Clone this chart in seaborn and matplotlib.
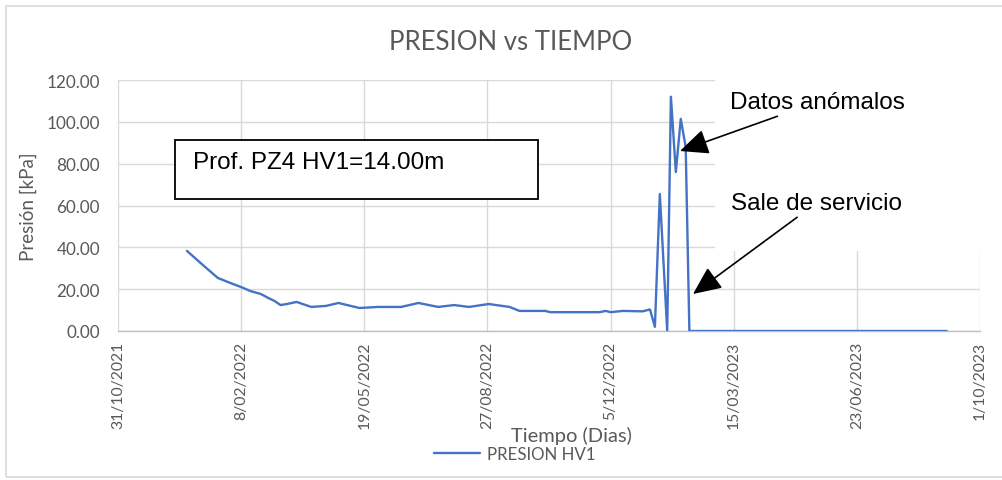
import matplotlib
matplotlib.use("Agg")
import matplotlib.pyplot as plt
import matplotlib.dates as mdates
from matplotlib.patches import Rectangle
import pandas as pd
import seaborn as sns

# Pressure readings of piezometer PZ4 HV1
fechas = [
    "2021-12-26", "2022-01-08", "2022-01-20", "2022-01-30", "2022-02-08",
    "2022-02-16", "2022-02-24", "2022-03-02", "2022-03-07", "2022-03-12",
    "2022-03-18", "2022-03-25", "2022-04-06", "2022-04-18", "2022-04-28",
    "2022-05-15", "2022-05-30", "2022-06-18", "2022-07-02", "2022-07-18",
    "2022-07-31", "2022-08-12", "2022-08-28", "2022-09-14", "2022-09-22",
    "2022-10-13", "2022-10-17", "2022-11-26", "2022-12-01", "2022-12-05",
    "2022-12-15", "2022-12-31", "2023-01-06", "2023-01-10", "2023-01-14",
    "2023-01-20", "2023-01-23", "2023-01-27", "2023-01-31", "2023-02-04",
    "2023-02-07", "2023-09-04",
]
presion = [
    38.3, 31.5, 25.4, 23.0, 21.0,
    19.0, 17.7, 15.8, 14.4, 12.4,
    13.0, 13.9, 11.5, 12.0, 13.4,
    11.0, 11.5, 11.5, 13.4, 11.5,
    12.4, 11.5, 12.9, 11.5, 9.6,
    9.6, 9.0, 9.0, 9.6, 9.0,
    9.6, 9.4, 10.3, 2.0, 65.5,
    0.0, 112.0, 76.0, 101.4, 88.0,
    0.0, 0.0,
]
serie = "PRESION HV1"
titulo = "PRESION vs TIEMPO"
nota_prof = "Prof. PZ4 HV1=14.00m"
nota_anom = "Datos anómalos"
nota_baja = "Sale de servicio"

df = pd.DataFrame({"Fecha": pd.to_datetime(fechas), "Presion": presion})

sns.set_theme(style="whitegrid")
plt.rcParams["font.family"] = ["Lato", "DejaVu Sans"]

gris_txt = "#595959"
gris_grid = "#d9d9d9"

fig = plt.figure(figsize=(10.02, 4.81), dpi=100)
ax = fig.add_axes([118 / 1002, 1 - 332 / 481, (980 - 118) / 1002, (332 - 81) / 481])

sns.lineplot(data=df, x="Fecha", y="Presion", ax=ax, color="#4472C4",
             linewidth=1.7, label=serie, zorder=4)

inicio = pd.Timestamp("2021-10-31")
fin = pd.Timestamp("2023-10-01")
ax.set_xlim(inicio, fin)
ax.set_ylim(0, 120)
ax.set_yticks(range(0, 121, 20))
ax.yaxis.set_major_formatter(plt.FuncFormatter(lambda v, p: f"{v:.2f}"))
ax.set_xticks(pd.date_range(inicio, periods=8, freq="100D"))
ax.xaxis.set_major_formatter(plt.FuncFormatter(
    lambda v, p: (lambda d: f"{d.day}/{d.month:02d}/{d.year}")(mdates.num2date(v))))
ax.tick_params(axis="x", rotation=90, labelsize=11.3, labelcolor=gris_txt, pad=7, length=0)
ax.tick_params(axis="y", labelsize=12.3, labelcolor=gris_txt, pad=13, length=0)

ax.grid(True, color=gris_grid, linewidth=1.0, zorder=0)
ax.set_axisbelow(True)
for s in ["top", "right", "left"]:
    ax.spines[s].set_visible(False)
ax.spines["bottom"].set_color("#bfbfbf")
ax.spines["bottom"].set_linewidth(1.0)

px2x = lambda x: (x - 118) / 862
px2y = lambda y: (332 - y) / 251

ax.set_xlabel("Tiempo (Dias)", fontsize=14.5, color=gris_txt)
ax.xaxis.set_label_coords(px2x(571), px2y(427))
ax.set_ylabel("Presión [kPa]", fontsize=13.5, color=gris_txt)
ax.yaxis.set_label_coords(px2x(37), px2y(207))

fig.text(511 / 1002, 1 - 43 / 481, titulo, ha="center", va="center",
         fontsize=18.5, color=gris_txt)

leg = ax.legend(loc="center", bbox_to_anchor=(px2x(515), px2y(455)),
                frameon=False, fontsize=12.2, handlelength=2.7, handletextpad=0.4,
                borderaxespad=0)
for t in leg.get_texts():
    t.set_color(gris_txt)

# white backing behind the annotations on the right
ax.add_patch(Rectangle((px2x(715), px2y(252)), 0.4, 0.72,
                       transform=ax.transAxes, facecolor="white", edgecolor="none",
                       zorder=2, clip_on=False))

# depth note box
ax.add_patch(Rectangle((px2x(175), px2y(200)), (538 - 175) / 862,
                       (200 - 141) / 251, transform=ax.transAxes, facecolor="white",
                       edgecolor="black", linewidth=1.3, zorder=5))
ax.text(px2x(193), px2y(163), nota_prof, transform=ax.transAxes,
        ha="left", va="center", fontsize=17.5, family="Liberation Sans",
        color="black", zorder=6)

flecha = dict(arrowstyle="-|>,head_length=1.0,head_width=0.45", color="black",
              lw=1.2, shrinkA=0, shrinkB=0)
ax.annotate(nota_anom, xy=(px2x(680), px2y(152)), xycoords="axes fraction",
            xytext=(px2x(730), px2y(103)), textcoords="axes fraction",
            ha="left", va="center", fontsize=17.5, family="Liberation Sans",
            color="black", arrowprops=flecha, zorder=6)
ax.annotate(nota_baja, xy=(px2x(693), px2y(295)), xycoords="axes fraction",
            xytext=(px2x(731), px2y(204)), textcoords="axes fraction",
            ha="left", va="center", fontsize=17.5, family="Liberation Sans",
            color="black", arrowprops=flecha, zorder=6)

# outer chart frame
fig.add_artist(Rectangle((6 / 1002, 3 / 481), 1.0, (478 - 7) / 481,
                         transform=fig.transFigure, facecolor="none",
                         edgecolor=gris_grid, linewidth=1.2))

fig.savefig("out.png", dpi=100)
